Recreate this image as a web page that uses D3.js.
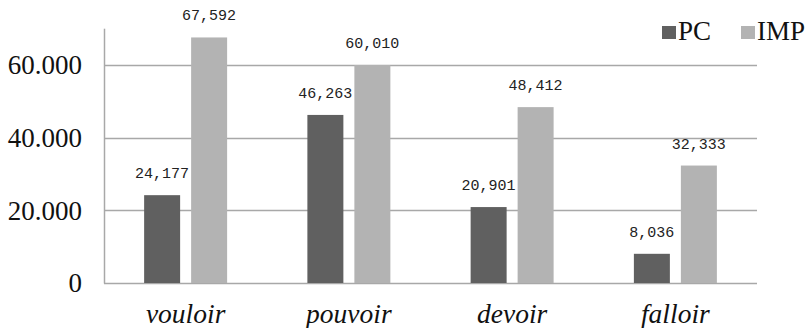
<!DOCTYPE html>
<html>
<head>
<meta charset="utf-8">
<script src="https://cdn.jsdelivr.net/npm/d3@7"></script>
<style>
  html, body { margin: 0; padding: 0; background: #fff; }
  svg { display: block; }
  .serif { font-family: "Liberation Serif", "Times New Roman", Tinos, "DejaVu Serif", serif; fill: #111; }
  .mono { font-family: "Liberation Mono", "DejaVu Sans Mono", monospace; fill: #222; }
</style>
</head>
<body>
<svg id="chart" width="808" height="328"></svg>
<script>
// Verb categories and the two series (PC, IMP)
const categories = ["vouloir", "pouvoir", "devoir", "falloir"];
const seriesNames = ["PC", "IMP"];
const pcValues = [24177, 46263, 20901, 8036];
const impValues = [67592, 60010, 48412, 32333];
const yTicks = [0, 20000, 40000, 60000];

const colors = { PC: "#606060", IMP: "#b3b3b3" };
const gridColor = "#a8a8a8";

const rows = categories.map((c, i) => ({ cat: c, PC: pcValues[i], IMP: impValues[i] }));

const svg = d3.select("#chart");
const x0 = 104, x1 = 757, yBase = 283;

const x = d3.scaleBand().domain(categories).range([x0, x1]).paddingInner(0).paddingOuter(0);
const xs = d3.scaleBand().domain(seriesNames).range([0, x.bandwidth()])
  .paddingInner(0.234).paddingOuter(0.854);
const y = d3.scaleLinear().domain([0, 70000]).range([yBase, 28.7]);

// axis tick format: dot as thousands separator
const axisLocale = d3.formatLocale({ decimal: ",", thousands: ".", grouping: [3], currency: ["", ""] });
const fmtAxis = axisLocale.format(",");
const fmtLabel = d3.format(",");

// horizontal gridlines (the 0 line doubles as the baseline)
svg.append("g").selectAll("line").data(yTicks).join("line")
  .attr("x1", x0).attr("x2", x1)
  .attr("y1", d => Math.round(y(d)) + 0.5).attr("y2", d => Math.round(y(d)) + 0.5)
  .attr("stroke", gridColor).attr("stroke-width", 1.5);

// vertical axis line
svg.append("line")
  .attr("x1", x0 + 0.5).attr("x2", x0 + 0.5)
  .attr("y1", y(70000)).attr("y2", yBase + 0.5)
  .attr("stroke", gridColor).attr("stroke-width", 1.5);

// y tick labels
svg.append("g").selectAll("text").data(yTicks).join("text")
  .attr("class", "serif")
  .attr("x", 82).attr("y", d => y(d)).attr("dy", "0.34em")
  .attr("text-anchor", "end")
  .style("font-size", "27px")
  .text(d => fmtAxis(d));

// bars
const groups = svg.append("g").selectAll("g").data(rows).join("g")
  .attr("transform", d => `translate(${x(d.cat)},0)`);

groups.selectAll("rect").data(d => seriesNames.map(s => ({ s, v: d[s] }))).join("rect")
  .attr("x", d => xs(d.s)).attr("width", xs.bandwidth())
  .attr("y", d => y(d.v)).attr("height", d => yBase - y(d.v))
  .attr("fill", d => colors[d.s]);

// value labels above bars
groups.selectAll("text").data(d => seriesNames.map(s => ({ s, v: d[s] }))).join("text")
  .attr("class", "mono")
  .attr("x", d => xs(d.s) + xs.bandwidth() / 2)
  .attr("y", d => y(d.v) - 17)
  .attr("text-anchor", "middle")
  .style("font-size", "15px")
  .text(d => fmtLabel(d.v));

// category labels
svg.append("g").selectAll("text").data(categories).join("text")
  .attr("class", "serif")
  .attr("x", d => x(d) + x.bandwidth() / 2).attr("y", 323)
  .attr("text-anchor", "middle")
  .style("font-style", "italic")
  .style("font-size", "27.5px")
  .text(d => d);

// legend
const legend = svg.append("g").selectAll("g").data(seriesNames).join("g")
  .attr("transform", (d, i) => `translate(${i === 0 ? 662 : 741},26)`);
legend.append("rect").attr("width", 14).attr("height", 13).attr("fill", d => colors[d]);
legend.append("text").attr("class", "serif").attr("x", 16).attr("y", 14)
  .style("font-size", "27px")
  .text(d => d);
</script>
</body>
</html>
